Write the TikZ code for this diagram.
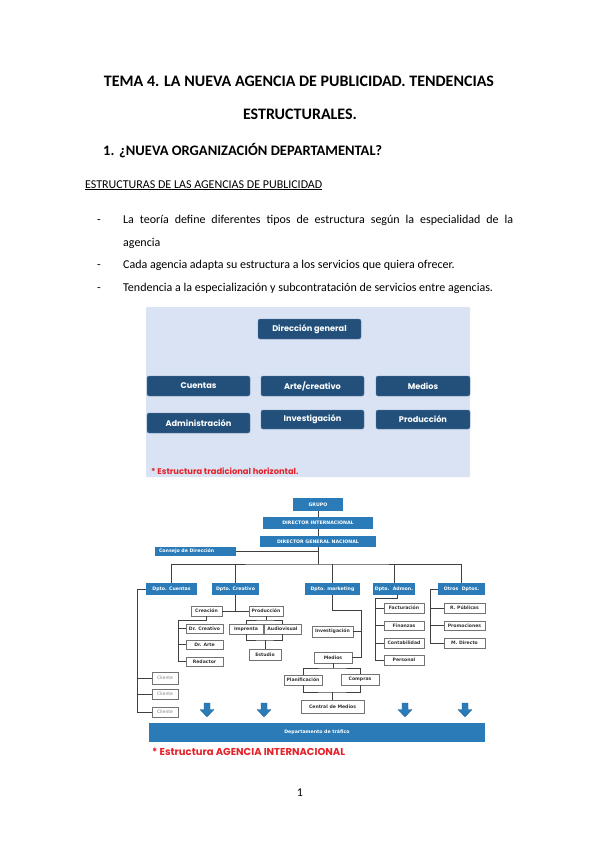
\documentclass[tikz,border=0pt]{standalone}
\usepackage{fontspec}
\setmainfont{Carlito}
\newfontfamily\gothic{Poppins}
\newfontfamily\verd{DejaVu Sans}
\usetikzlibrary{positioning}
\definecolor{bgone}{HTML}{DAE3F3}
\definecolor{boxone}{HTML}{22507B}
\definecolor{edgeone}{HTML}{5A7FA6}
\definecolor{boxtwo}{HTML}{2B7BB9}
\definecolor{redtxt}{HTML}{E42229}
\definecolor{linec}{HTML}{404040}
\tikzset{
  dbox/.style={rounded corners=2pt, fill=boxone, draw=edgeone, line width=0.4pt, text=white,
    font=\gothic\bfseries\fontsize{8.2}{10}\selectfont, inner sep=0pt},
  bbox/.style={fill=boxtwo, text=white, font=\verd\bfseries\fontsize{4.7}{5.5}\selectfont, inner sep=0pt},
  wbox/.style={fill=white, draw=black!55, line width=0.7pt, text=black!80,
    font=\verd\bfseries\fontsize{4.6}{5.5}\selectfont, inner sep=0pt},
  cbox/.style={fill=white, draw=black!55, line width=0.7pt, text=black!50,
    font=\verd\fontsize{4.5}{5.5}\selectfont, inner sep=0pt},
  conn/.style={draw=linec, line width=0.6pt},
  bodytxt/.style={anchor=base west, inner sep=0pt, font=\fontsize{12}{14}\selectfont},
  downarrow/.style={fill=boxtwo, draw=boxtwo!80!black, line width=0.3pt}
}
\begin{document}
\begin{tikzpicture}[x=1pt,y=-1pt]
\useasboundingbox (0,0) rectangle (599,848);
\fill[white] (0,0) rectangle (599,848);

% ---------- text ----------
\node[anchor=base, inner sep=0pt, font=\bfseries\fontsize{16}{18}\selectfont] (t1) at (299,87) {TEMA 4. LA NUEVA AGENCIA DE PUBLICIDAD. TENDENCIAS};
\node[anchor=base, inner sep=0pt, font=\bfseries\fontsize{16}{18}\selectfont] (t2) at (300,120) {ESTRUCTURALES.};
\node[anchor=base west, inner sep=0pt, font=\bfseries\fontsize{14.5}{16}\selectfont] (h1) at (103,155) {\makebox[16pt][l]{1.}¿NUEVA ORGANIZACIÓN DEPARTAMENTAL?};
\node[bodytxt] (h2) at (85,188) {\underline{ESTRUCTURAS DE LAS AGENCIAS DE PUBLICIDAD}};
\node[bodytxt] (d1) at (97,223) {-};
\node[bodytxt] (b1) at (123,223) {\makebox[390pt][s]{La teoría define diferentes tipos de estructura según la especialidad de la}};
\node[bodytxt] (b1b) at (123,246) {agencia};
\node[bodytxt] (d2) at (97,268) {-};
\node[bodytxt] (b2) at (123,268) {Cada agencia adapta su estructura a los servicios que quiera ofrecer.};
\node[bodytxt] (d3) at (97,291) {-};
\node[bodytxt] (b3) at (123,291) {Tendencia a la especialización y subcontratación de servicios entre agencias.};

% ---------- diagram 1 ----------
\fill[bgone, rounded corners=1pt] (146,307) rectangle (470,477);
\node[dbox, minimum width=103pt, minimum height=20pt] (dg) at (309.5,329) {Dirección general};
\node[dbox, minimum width=103pt, minimum height=20pt] (cu) at (198.5,386) {Cuentas};
\node[dbox, minimum width=103pt, minimum height=20pt] (ar) at (312.5,386) {Arte/creativo};
\node[dbox, minimum width=94pt, minimum height=20pt] (me) at (423,386) {Medios};
\node[dbox, minimum width=103pt, minimum height=20pt] (ad) at (198.5,423) {Administración};
\node[dbox, minimum width=103pt, minimum height=19pt] (in) at (312.5,419.5) {Investigación};
\node[dbox, minimum width=94pt, minimum height=19pt] (pr) at (423,419.5) {Producción};
\node[anchor=west, inner sep=0pt, text=redtxt, font=\gothic\bfseries\fontsize{8.3}{10}\selectfont] (r1) at (151,471) {* Estructura tradicional horizontal.};

% ---------- diagram 2 ----------
\node[bbox, minimum width=50pt, minimum height=13pt] (grupo) at (318,504.5) {GRUPO};
\node[bbox, minimum width=110pt, minimum height=12pt] (dint) at (318,523) {DIRECTOR INTERNACIONAL};
\node[bbox, minimum width=116pt, minimum height=11pt] (dgn) at (318,541.5) {DIRECTOR GENERAL NACIONAL};
\node[bbox, minimum width=81pt, minimum height=9pt, text width=73pt, align=left] (cons) at (195.5,551.5) {Consejo de Dirección};

\node[bbox, minimum width=51pt, minimum height=12pt] (dcu) at (171.5,589) {Dpto. Cuentas};
\node[bbox, minimum width=47pt, minimum height=12pt] (dcr) at (235.5,589) {Dpto. Creativo};
\node[bbox, minimum width=55pt, minimum height=12pt] (dmk) at (332.5,589) {Dpto. marketing};
\node[bbox, minimum width=42pt, minimum height=12pt] (dad) at (394,589) {Dpto.\ \ Admon.};
\node[bbox, minimum width=47pt, minimum height=12pt] (dot) at (461.5,589) {Otros\ \ Dptos.};

\coordinate (bus) at (318,564);
\draw[conn] (grupo.south) -- (dint.north);
\draw[conn] (dint.south) -- (dgn.north);
\draw[conn] (dgn.south) -- (bus);
\draw[conn] (cons.east) -- (cons.east -| dgn.south);
\draw[conn] (dcu.north) |- (bus) -| (dot.north);
\draw[conn] (dcr.north) -- (dcr.north |- bus);
\draw[conn] (dmk.north) -- (dmk.north |- bus);
\draw[conn] (dad.north) -- (dad.north |- bus);

% Cuentas
\node[cbox, minimum width=26pt, minimum height=12pt] (cl1) at (165,678) {Cliente};
\node[cbox, minimum width=26pt, minimum height=10pt] (cl2) at (165,694) {Cliente};
\node[cbox, minimum width=26pt, minimum height=10pt] (cl3) at (165,712) {Cliente};
\coordinate (cv) at (137,589);
\draw[conn] (dcu.west) -- (cv) |- (cl3.west);
\draw[conn] (cv) |- (cl1.west);
\draw[conn] (cv) |- (cl2.west);

% Creativo
\node[wbox, minimum width=31pt, minimum height=10pt] (crea) at (206.5,611) {Creación};
\node[wbox, minimum width=34pt, minimum height=10pt] (prod) at (266,611) {Producción};
\draw[conn] (crea.east) -- (prod.west);
\draw[conn] (dcr.south) -- (dcr.south |- crea.east);
\node[wbox, minimum width=37pt, minimum height=9pt] (drc) at (204.5,628.5) {Dr. Creativo};
\node[wbox, minimum width=37pt, minimum height=9pt] (dra) at (204.5,644.5) {Dr. Arte};
\node[wbox, minimum width=37pt, minimum height=9pt] (red) at (204.5,661.5) {Redactor};
\coordinate (cv2) at (178,620);
\draw[conn] (crea.south) |- (cv2) |- (red.west);
\draw[conn] (cv2) |- (drc.west);
\draw[conn] (cv2) |- (dra.west);
\node[wbox, minimum width=34pt, minimum height=10pt] (impr) at (246,629) {Imprenta};
\node[wbox, minimum width=37pt, minimum height=10pt] (audio) at (282.5,629) {Audiovisual};
\node[wbox, minimum width=32pt, minimum height=11pt] (estu) at (265,654.5) {Estudio};
\coordinate (pj) at (266,620);
\draw[conn] (prod.south) -- (pj);
\draw[conn] (impr.north) |- (pj) -| (audio.north);
\coordinate (ej) at (265,640);
\draw[conn] (impr.south) |- (ej) -| (audio.south);
\draw[conn] (ej) -- (estu.north);

% Marketing
\node[wbox, minimum width=41pt, minimum height=11pt] (inv) at (332.5,631.5) {Investigación};
\node[wbox, minimum width=38pt, minimum height=11pt] (med) at (333,657.5) {Medios};
\coordinate (mk) at (361,610);
\draw[conn] (dmk.south) |- (mk) |- (med.east);
\draw[conn] (inv.east) -- (inv.east -| mk);
\node[wbox, minimum width=38pt, minimum height=10pt] (plan) at (303,680) {Planificación};
\node[wbox, minimum width=38pt, minimum height=11pt] (comp) at (360,679.5) {Compras};
\node[wbox, minimum width=63pt, minimum height=13pt] (cen) at (332.5,706.5) {Central de Medios};
\coordinate (mj) at (333,668);
\draw[conn] (med.south) -- (mj);
\draw[conn] (plan.north) |- (mj) -| (comp.north);
\coordinate (cj) at (332.5,692);
\draw[conn] (plan.south) |- (cj) -| (comp.south);
\draw[conn] (cj) -- (cen.north);

% Admon
\node[wbox, minimum width=40pt, minimum height=10pt] (fac) at (404,608) {Facturación};
\node[wbox, minimum width=40pt, minimum height=9pt] (fin) at (404,625.5) {Finanzas};
\node[wbox, minimum width=40pt, minimum height=10pt] (con) at (404,643) {Contabilidad};
\node[wbox, minimum width=40pt, minimum height=10pt] (per) at (404,660) {Personal};
\coordinate (adj) at (375,598);
\draw[conn] ([xshift=3pt]dad.south) |- (adj) |- (per.west);
\draw[conn] (adj) |- (fac.west);
\draw[conn] (adj) |- (fin.west);
\draw[conn] (adj) |- (con.west);

% Otros
\node[wbox, minimum width=41pt, minimum height=10pt] (rp) at (464.5,608) {R. Públicas};
\node[wbox, minimum width=41pt, minimum height=9pt] (promo) at (464.5,625.5) {Promociones};
\node[wbox, minimum width=41pt, minimum height=10pt] (mdir) at (464.5,643) {M. Directo};
\coordinate (ot) at (430,589);
\draw[conn] (dot.west) -- (ot) |- (mdir.west);
\draw[conn] (ot) |- (rp.west);
\draw[conn] (ot) |- (promo.west);

% arrows
\foreach \ax in {207,264,405,465}{
  \draw[downarrow] (\ax-3,703) -- (\ax+3,703) -- (\ax+3,709.5) -- (\ax+7,709.5) -- (\ax,717) -- (\ax-7,709.5) -- (\ax-3,709.5) -- cycle;
}

\node[bbox, minimum width=336pt, minimum height=19pt] (traf) at (317,732.5) {Departamento de tráfico};
\node[anchor=west, inner sep=0pt, text=redtxt, font=\gothic\bfseries\fontsize{10}{12}\selectfont] (r2) at (152,752) {* Estructura AGENCIA INTERNACIONAL};

\node[anchor=base, inner sep=0pt, font=\fontsize{12}{14}\selectfont] (pg) at (300,796) {1};
\end{tikzpicture}
\end{document}
